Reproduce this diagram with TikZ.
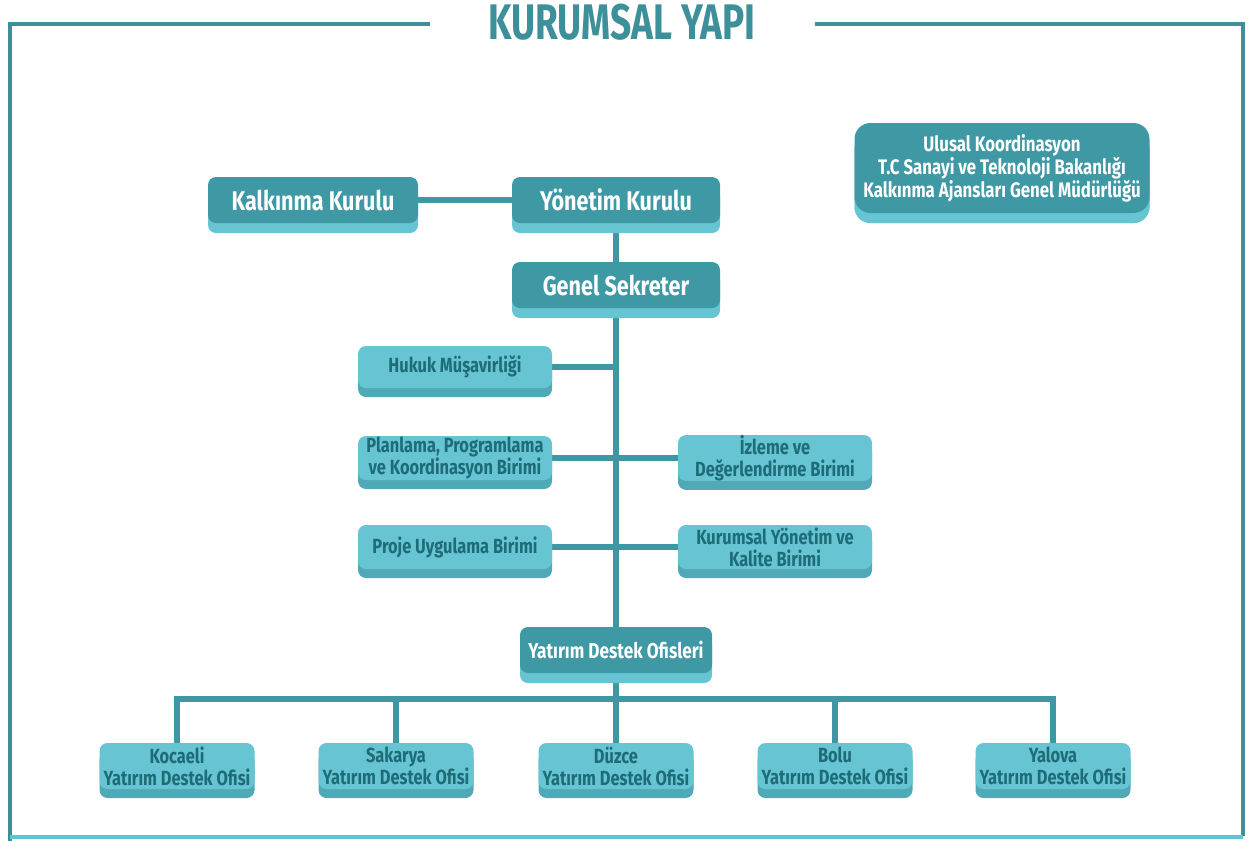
\documentclass[tikz,border=0pt]{standalone}
\usepackage{fontspec}
\setmainfont{Fira Sans}[FakeStretch=0.8]
\newfontfamily\titlefont{Fira Sans}[FakeStretch=0.74]
\usetikzlibrary{shadows}
\usetikzlibrary{backgrounds}

\definecolor{tealdark}{HTML}{3F99A5}
\definecolor{teallight}{HTML}{67C4D2}
\definecolor{tealshade}{HTML}{4FA9B6}
\definecolor{tealtext}{HTML}{1E6C78}
\definecolor{teallink}{HTML}{3E97A3}
\definecolor{tealframe}{HTML}{3D8F9A}
\definecolor{tealfoot}{HTML}{62C4D1}

\tikzset{
  darkbox/.style={rectangle, rounded corners=8pt, fill=tealdark, text=white, align=center, inner sep=0pt,
    font=\bfseries\fontsize{27}{29}\selectfont,
    general shadow={fill=teallight, rounded corners=8pt, shadow yshift=-10pt}},
  lightbox/.style={rectangle, rounded corners=8pt, fill=teallight, text=tealtext, align=center, inner sep=0pt,
    font=\bfseries\fontsize{20.5}{22}\selectfont, minimum width=194pt, minimum height=44pt,
    general shadow={fill=tealshade, rounded corners=8pt, shadow yshift=-9pt}},
  officebox/.style={lightbox, minimum width=155pt, minimum height=46pt},
  link/.style={draw=teallink, line width=6pt},
  frameline/.style={draw=tealframe, line width=3.5pt}
}

\begin{document}
\begin{tikzpicture}[x=1pt,y=1pt,yscale=-1]
    \useasboundingbox (0,0) rectangle (1249,841);

    % frame and title
    \draw[frameline] (430,24) -- (10,24) -- (10,841);
    \draw[frameline] (815,24) -- (1243,24) -- (1243,836);
    \draw[draw=tealfoot, line width=3.5pt] (10,837) -- (1243,837);
    \node (title) at (622,22) [text=tealframe, font=\titlefont\bfseries\fontsize{50}{50}\selectfont] {KURUMSAL YAPI};

    % board level
    \node (kalk) at (313,200) [darkbox, minimum width=210pt, minimum height=46pt] {Kalkınma Kurulu};
    \node (yon) at (616,200) [darkbox, minimum width=208pt, minimum height=46pt] {Yönetim Kurulu};
    \node (gs) at (616,285) [darkbox, minimum width=208pt, minimum height=46pt] {Genel Sekreter};
    \node (ulusal) at (1002,168) [darkbox, minimum width=295pt, minimum height=90pt, rounded corners=16pt,
        general shadow={fill=teallight, rounded corners=16pt, shadow yshift=-10pt},
        font=\bfseries\fontsize{21}{23}\selectfont] {Ulusal Koordinasyon\\T.C Sanayi ve Teknoloji Bakanlığı\\Kalkınma Ajansları Genel Müdürlüğü};

    % units
    \node (hukuk) at (455,367) [lightbox, minimum height=42pt] {Hukuk Müşavirliği};
    \node (plan) at (455,458) [lightbox] {Planlama, Programlama\\ve Koordinasyon Birimi};
    \node (izle) at (775,458) [lightbox] {İzleme ve\\Değerlendirme Birimi};
    \node (proje) at (455,547) [lightbox] {Proje Uygulama Birimi};
    \node (kalite) at (775,547) [lightbox] {Kurumsal Yönetim ve\\Kalite Birimi};

    % offices
    \node (ydo) at (616,650) [darkbox, minimum width=192pt, minimum height=46pt,
        font=\bfseries\fontsize{21.5}{23}\selectfont] {Yatırım Destek Ofisleri};
    \coordinate (bus) at (616,699);
    \node (koc) at (177,766) [officebox] {Kocaeli\\Yatırım Destek Ofisi};
    \node (sak) at (396,766) [officebox] {Sakarya\\Yatırım Destek Ofisi};
    \node (duz) at (616,766) [officebox] {Düzce\\Yatırım Destek Ofisi};
    \node (bol) at (835,766) [officebox] {Bolu\\Yatırım Destek Ofisi};
    \node (yal) at (1053,766) [officebox] {Yalova\\Yatırım Destek Ofisi};

    % connectors
    \begin{scope}[on background layer]
    \draw[link] (kalk) -- (yon);
    \draw[link] (yon) -- (ydo);
    \draw[link] (hukuk) -- (hukuk -| gs);
    \draw[link] (plan) -- (izle);
    \draw[link] (proje) -- (kalite);
    \draw[link] (ydo) -- (duz);
    \draw[link] (koc.north) |- (bus) -| (yal.north);
    \draw[link] (sak.north) -- (sak.north |- bus);
    \draw[link] (bol.north) -- (bol.north |- bus);
    \end{scope}
\end{tikzpicture}
\end{document}
